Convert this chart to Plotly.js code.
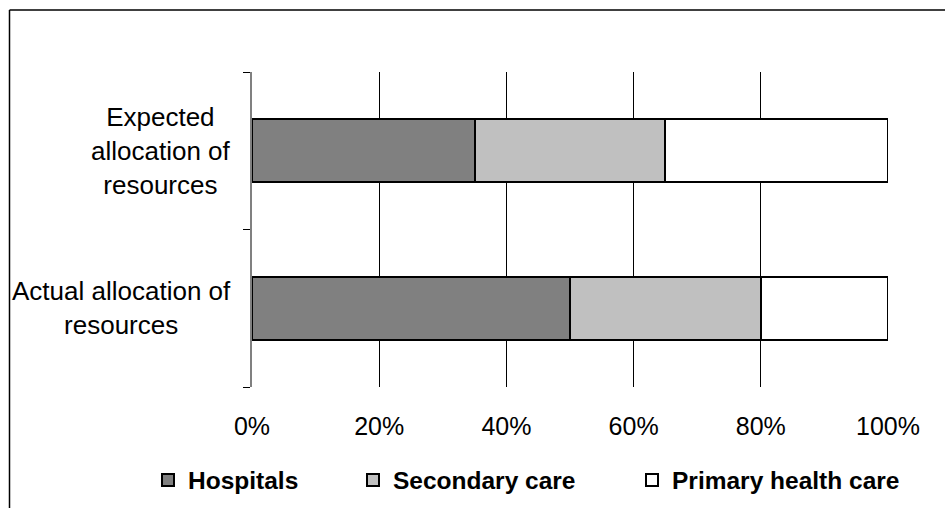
<!DOCTYPE html>
<html>
<head>
<meta charset="utf-8">
<script src="https://cdn.plot.ly/plotly-3.0.1.min.js"></script>
<style>html,body{margin:0;padding:0;background:#fff;}#chart{width:945px;height:508px;}</style>
</head>
<body>
<div id="chart"></div>
<script>
// Data
const categories = ["Actual allocation of resources", "Expected allocation of resources"];
const categoryLabels = ["Actual allocation of<br>resources", "Expected<br>allocation of<br>resources"];
const seriesNames = ["Hospitals", "Secondary care", "Primary health care"];
const hospitals = [50, 35];
const secondaryCare = [30, 30];
const primaryHealthCare = [20, 35];
const xTickValues = [0, 20, 40, 60, 80, 100];
const xTickLabels = ["0%", "20%", "40%", "60%", "80%", "100%"];

const FONT = "Liberation Sans, Arial, sans-serif";
const colors = ["#808080", "#c0c0c0", "#ffffff"];
const seriesValues = [hospitals, secondaryCare, primaryHealthCare];
const legendIds = ["legend", "legend2", "legend3"];

const traces = seriesNames.map((name, i) => ({
  type: "bar",
  orientation: "h",
  name: name,
  y: categories,
  x: seriesValues[i],
  marker: {color: colors[i], line: {color: "#000", width: 2}},
  legend: legendIds[i],
  hoverinfo: "x+name"
}));

// plot area in px: left 252, right 888, top 72, bottom 387
const L = 252, R = 888, T = 72, B = 387, W = 945, H = 508;
const px2x = p => (p - L) / (R - L);
const px2y = p => (B - p) / (B - T);

const legendBase = {
  orientation: "h",
  xanchor: "left",
  yanchor: "middle",
  y: px2y(480),
  bgcolor: "rgba(0,0,0,0)",
  borderwidth: 0,
  font: {family: FONT, size: 24.5, color: "#000", weight: "bold"}
};

const annotations = categories.map((c, i) => ({
  xref: "paper",
  yref: "y",
  x: px2x(233),
  y: c,
  xanchor: "right",
  yanchor: "middle",
  align: "center",
  showarrow: false,
  text: categoryLabels[i],
  font: {family: FONT, size: 26, color: "#000"}
}));

const layout = {
  width: W,
  height: H,
  margin: {l: L, r: W - R, t: T, b: H - B, pad: 0, autoexpand: false},
  paper_bgcolor: "#fff",
  plot_bgcolor: "#fff",
  barmode: "stack",
  bargap: 0.6,
  showlegend: true,
  legend: Object.assign({}, legendBase, {x: px2x(148)}),
  legend2: Object.assign({}, legendBase, {x: px2x(353)}),
  legend3: Object.assign({}, legendBase, {x: px2x(632)}),
  xaxis: {
    range: [0, 100],
    tickvals: xTickValues,
    ticktext: xTickLabels,
    showgrid: true,
    gridcolor: "#000",
    gridwidth: 1,
    zeroline: false,
    showline: false,
    ticks: "",
    ticklabelstandoff: 22,
    tickfont: {family: FONT, size: 25, color: "#000"},
    fixedrange: true
  },
  yaxis: {
    type: "category",
    categoryorder: "array",
    categoryarray: categories,
    range: [-0.5, 1.5],
    showticklabels: false,
    showgrid: false,
    zeroline: false,
    showline: true,
    linecolor: "#808080",
    linewidth: 2,
    ticks: "outside",
    tickson: "boundaries",
    ticklen: 7,
    tickcolor: "#000",
    tickwidth: 1,
    fixedrange: true
  },
  annotations: annotations,
  shapes: [
    {type: "line", xref: "paper", yref: "paper", x0: px2x(9.5), x1: px2x(946), y0: px2y(10), y1: px2y(10), line: {color: "#000", width: 1.5}},
    {type: "line", xref: "paper", yref: "paper", x0: px2x(9.5), x1: px2x(9.5), y0: px2y(10), y1: px2y(509), line: {color: "#000", width: 1.5}}
  ]
};

Plotly.newPlot("chart", traces, layout, {displayModeBar: false, staticPlot: false});
</script>
</body>
</html>
